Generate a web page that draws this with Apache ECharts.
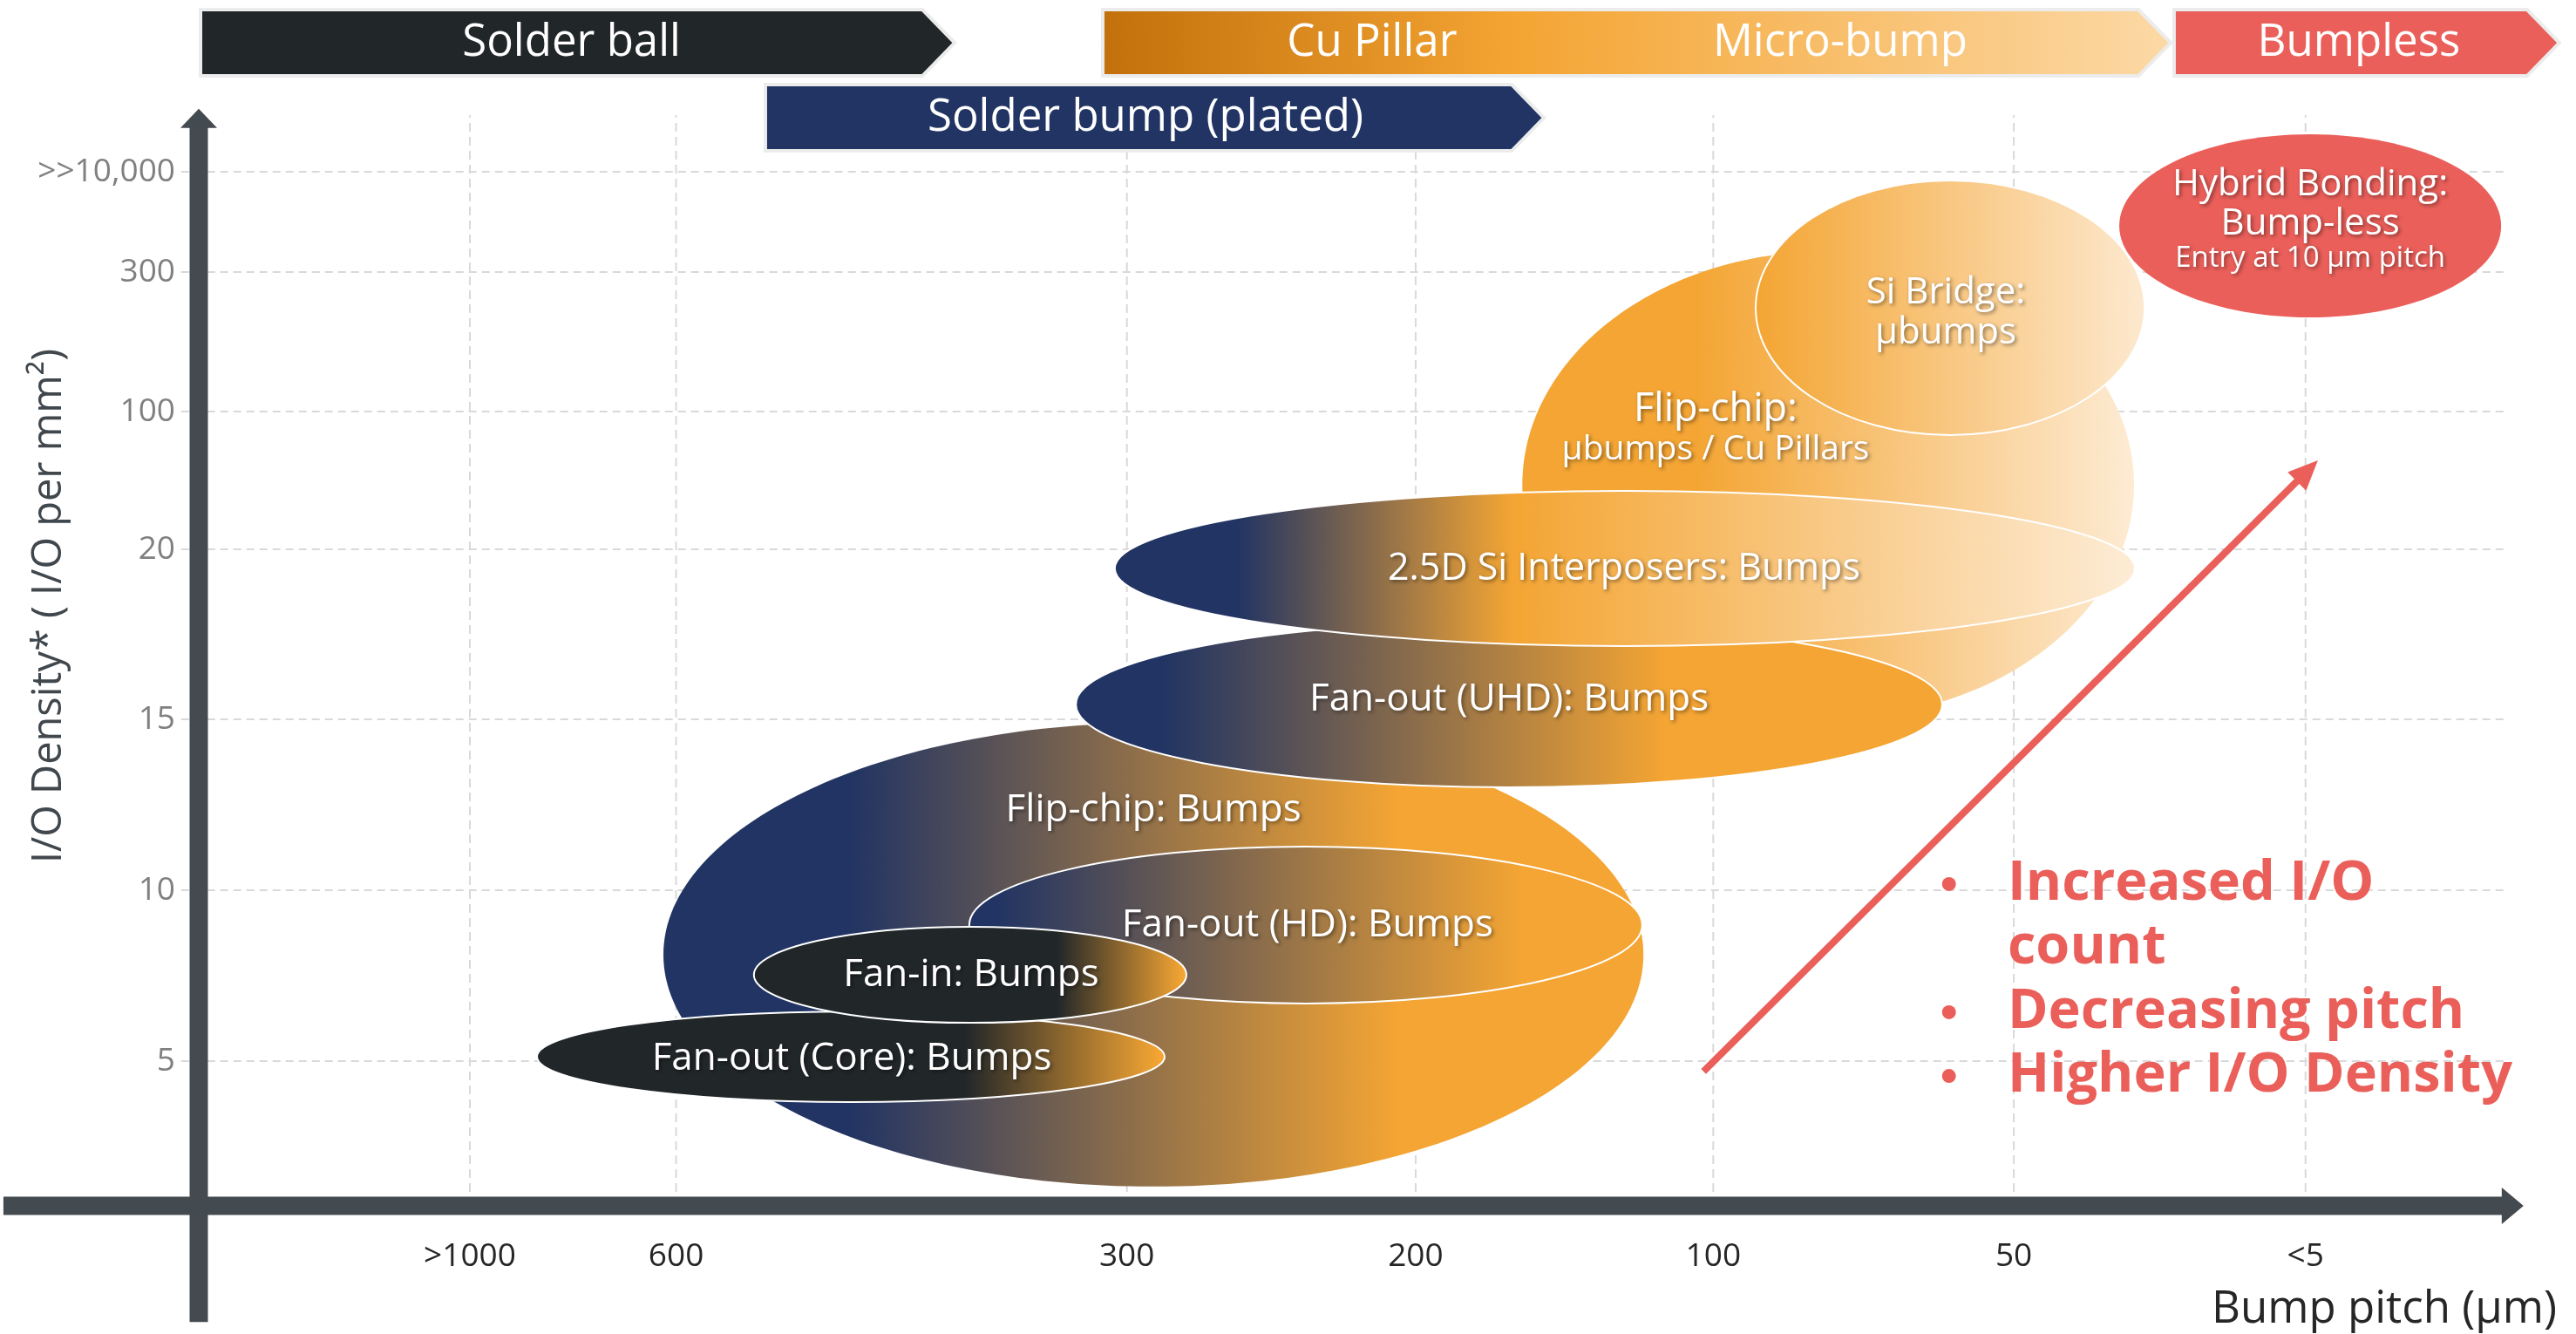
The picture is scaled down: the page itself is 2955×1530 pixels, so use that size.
<!DOCTYPE html>
<html><head><meta charset="utf-8">
<script src="https://cdn.jsdelivr.net/npm/echarts@6/dist/echarts.min.js"></script>
<style>html,body{margin:0;padding:0;background:#fff}#c{width:2955px;height:1530px}</style>
</head><body><div id="c"></div>
<script>
// ---- axis ticks (positions along the diagram's ordinal axes) ----
const xTickLabels = ['>1000', '600', '300', '200', '100', '50', '<5'];
const xTickPos = [0.92, 1.62, 3.15, 4.13, 5.14, 6.16, 7.15];
const yTickLabels = ['5', '10', '15', '20', '100', '300', '>>10,000'];
const yTickPos = [0.847, 1.847, 2.847, 3.842, 4.648, 5.464, 6.051];
const xAxisExtent = [-0.663, 7.89];
const yAxisExtent = [-0.68, 6.42];
const xTitle = 'Bump pitch (µm)';
const yTitle = 'I/O Density* ( I/O per mm²)';

// ---- technology bubbles (bottom to top) ----
const bubbleNames = ['Flip-chip: Bumps', 'Fan-out (HD): Bumps', 'Fan-out (Core): Bumps', 'Fan-in: Bumps',
  'Flip-chip: µbumps / Cu Pillars', 'Si Bridge: µbumps', 'Fan-out (UHD): Bumps', '2.5D Si Interposers: Bumps', 'Hybrid Bonding: Bump-less'];
const bubbleX = [3.24, 3.757, 2.213, 2.618, 5.530, 5.944, 4.447, 4.840, 7.166];
const bubbleY = [1.47, 1.643, 0.872, 1.352, 4.219, 5.255, 2.934, 3.730, 5.735];
const bubbleRx = [1.663, 1.142, 1.065, 0.734, 1.038, 0.660, 1.470, 1.731, 0.648];
const bubbleRy = [1.357, 0.459, 0.265, 0.281, 1.367, 0.745, 0.485, 0.454, 0.536];

// ---- bubble labels ----
const labelTexts = ['Flip-chip: Bumps', 'Fan-out (HD): Bumps', 'Fan-out (Core): Bumps', 'Fan-in: Bumps',
  'Flip-chip:', 'µbumps / Cu Pillars', 'Si Bridge:', 'µbumps', 'Fan-out (UHD): Bumps', '2.5D Si Interposers: Bumps',
  'Hybrid Bonding:', 'Bump-less', 'Entry at 10 µm pitch'];
const labelX = [3.240, 3.763, 2.216, 2.621, 5.148, 5.148, 5.929, 5.929, 4.447, 4.837, 7.166, 7.166, 7.166];
const labelY = [2.316, 1.638, 0.862, 1.352, 4.658, 4.423, 5.342, 5.107, 2.964, 3.724, 5.974, 5.745, 5.541];

// ---- interconnect banners ----
const bannerNames = ['Solder ball', 'Solder bump (plated)', 'Cu Pillar / Micro-bump', 'Bumpless'];
const bannerStart = [0.006, 1.923, 3.068, 6.704];
const bannerEnd = [2.456, 4.456, 6.583, 7.902];
const bannerRow = [0, 1, 0, 0];
const rowTop = [7.0, 6.561];
const rowBottom = [6.612, 6.173];
const bannerTexts = ['Solder ball', 'Solder bump (plated)', 'Cu Pillar', 'Micro-bump', 'Bumpless'];
const bannerTextX = [1.265, 3.213, 3.982, 5.571, 7.331];
const bannerTextRow = [0, 1, 0, 0, 0];

// ---- trend arrow and bullets ----
const trendFrom = [5.107, 0.786];
const trendTo = [7.192, 4.362];
const bulletLines = ['Increased I/O', 'count', 'Decreasing pitch', 'Higher I/O Density'];
const bulletHasDot = [true, false, true, true];
const bulletY = [1.883, 1.510, 1.133, 0.760];
const bulletTextX = 6.139;
const bulletDotX = 5.94;

// ---------------- styles ----------------
const NAVY = '#213463', ORANGE = '#f4a533', DARK = '#212629', RED = '#eb5f5a', LIGHT = '#fdebd3';
function lin(stops) { return { type: 'linear', x: 0, y: 0, x2: 1, y2: 0, colorStops: stops.map(s => ({ offset: s[0], color: s[1] })) }; }
const bubbleStyles = [
  { fill: lin([[0, NAVY], [0.19, NAVY], [0.75, ORANGE], [1, ORANGE]]), stroke: null },
  { fill: lin([[0, NAVY], [0.04, NAVY], [0.82, ORANGE], [1, ORANGE]]), stroke: '#ffffff' },
  { fill: lin([[0, DARK], [0.68, DARK], [0.99, ORANGE], [1, ORANGE]]), stroke: '#ffffff' },
  { fill: lin([[0, DARK], [0.70, DARK], [0.99, ORANGE], [1, ORANGE]]), stroke: '#ffffff' },
  { fill: lin([[0, ORANGE], [0.28, ORANGE], [1, LIGHT]]), stroke: null },
  { fill: lin([[0, ORANGE], [1, '#fde9cf']]), stroke: '#ffffff' },
  { fill: lin([[0, NAVY], [0.1, NAVY], [0.68, ORANGE], [1, ORANGE]]), stroke: '#ffffff' },
  { fill: lin([[0, NAVY], [0.12, NAVY], [0.39, ORANGE], [1, '#fdecd6']]), stroke: '#ffffff' },
  { fill: RED, stroke: null }
];
const labelSizes = [44, 44, 44, 44, 45, 39, 42, 42, 44, 43, 42, 42, 33];
const bannerFills = [DARK, NAVY, lin([[0, '#c2700b'], [0.39, ORANGE], [1, '#fcd9a6']]), RED];
const FONT = '"Open Sans", "Noto Sans", sans-serif';
const AXIS = '#434a50';
const shadowText = { textShadowColor: 'rgba(0,0,0,0.45)', textShadowBlur: 4, textShadowOffsetX: 2, textShadowOffsetY: 2 };

const chart = echarts.init(document.getElementById('c'));

const series = [];
// horizontal gridlines
series.push({
  type: 'custom', clip: false, silent: true, z: 1,
  data: yTickPos.map(v => [0, v]),
  renderItem: (p, api) => {
    const v = yTickPos[p.dataIndex];
    const a = api.coord([-0.06, v]), b = api.coord([7.83, v]);
    return { type: 'line', shape: { x1: a[0], y1: a[1], x2: b[0], y2: b[1] }, style: { stroke: '#d9d9d9', lineWidth: 2, lineDash: [9, 6] } };
  }
});
// vertical gridlines
series.push({
  type: 'custom', clip: false, silent: true, z: 1,
  data: xTickPos.map(u => [u, 0]),
  renderItem: (p, api) => {
    const u = xTickPos[p.dataIndex];
    const a = api.coord([u, 0]), b = api.coord([u, 6.383]);
    return { type: 'line', shape: { x1: a[0], y1: a[1], x2: b[0], y2: b[1] }, style: { stroke: '#d9d9d9', lineWidth: 2, lineDash: [10, 6] } };
  }
});
// bubbles
series.push({
  type: 'custom', clip: false, silent: true, z: 2,
  data: bubbleX.map((x, i) => [x, bubbleY[i], bubbleRx[i], bubbleRy[i]]),
  renderItem: (p, api) => {
    const i = p.dataIndex;
    const c = api.coord([api.value(0), api.value(1)]);
    const s = api.size([api.value(2), api.value(3)]);
    const st = bubbleStyles[i];
    const style = { fill: st.fill };
    if (st.stroke) { style.stroke = st.stroke; style.lineWidth = 2; }
    return { type: 'ellipse', shape: { cx: c[0], cy: c[1], rx: s[0], ry: s[1] }, style };
  }
});
// bubble labels
series.push({
  type: 'custom', clip: false, silent: true, z: 3,
  data: labelX.map((x, i) => [x, labelY[i]]),
  renderItem: (p, api) => {
    const i = p.dataIndex;
    const c = api.coord([labelX[i], labelY[i]]);
    return { type: 'text', x: c[0], y: c[1], style: Object.assign({ text: labelTexts[i], fill: '#ffffff', fontSize: labelSizes[i], fontFamily: FONT, align: 'center', verticalAlign: 'middle' }, shadowText) };
  }
});
// banners
series.push({
  type: 'custom', clip: false, silent: true, z: 3,
  data: bannerStart.map((s, i) => [s, rowTop[bannerRow[i]]]),
  renderItem: (p, api) => {
    const i = p.dataIndex, r = bannerRow[i];
    const tl = api.coord([bannerStart[i], rowTop[r]]);
    const br = api.coord([bannerEnd[i], rowBottom[r]]);
    const midY = (tl[1] + br[1]) / 2, tip = br[0] + 37;
    return { type: 'polygon', shape: { points: [[tl[0], tl[1]], [br[0], tl[1]], [tip, midY], [br[0], br[1]], [tl[0], br[1]]] },
      style: { fill: bannerFills[i], stroke: '#ececec', lineWidth: 4 } };
  }
});
// banner texts
series.push({
  type: 'custom', clip: false, silent: true, z: 4,
  data: bannerTextX.map((x, i) => [x, rowTop[bannerTextRow[i]]]),
  renderItem: (p, api) => {
    const i = p.dataIndex, r = bannerTextRow[i];
    const c = api.coord([bannerTextX[i], (rowTop[r] + rowBottom[r]) / 2]);
    return { type: 'text', x: c[0], y: c[1], style: { text: bannerTexts[i], fill: '#ffffff', fontSize: 51, fontFamily: FONT, align: 'center', verticalAlign: 'middle' } };
  }
});
// axes with arrow heads
series.push({
  type: 'custom', clip: false, silent: true, z: 5,
  data: [[0, 0]],
  renderItem: (p, api) => {
    const o = api.coord([0, 0]);
    const xl = api.coord([xAxisExtent[0], 0]), xr = api.coord([xAxisExtent[1], 0]);
    const yb = api.coord([0, yAxisExtent[0]]), yt = api.coord([0, yAxisExtent[1]]);
    const bw = 21;
    return { type: 'group', children: [
      { type: 'rect', shape: { x: xl[0], y: o[1] - bw / 2, width: xr[0] - 24 - xl[0], height: bw }, style: { fill: AXIS } },
      { type: 'polygon', shape: { points: [[xr[0] - 25, o[1] - 21], [xr[0], o[1]], [xr[0] - 25, o[1] + 21]] }, style: { fill: AXIS } },
      { type: 'rect', shape: { x: o[0] - bw / 2, y: yt[1] + 21, width: bw, height: yb[1] - yt[1] - 21 }, style: { fill: AXIS } },
      { type: 'polygon', shape: { points: [[o[0] - 21, yt[1] + 22], [o[0], yt[1]], [o[0] + 21, yt[1] + 22]] }, style: { fill: AXIS } }
    ] };
  }
});
// tick labels
series.push({
  type: 'custom', clip: false, silent: true, z: 5,
  data: xTickPos.map(u => [u, 0]),
  renderItem: (p, api) => {
    const c = api.coord([xTickPos[p.dataIndex], -0.30]);
    return { type: 'text', x: c[0], y: c[1], style: { text: xTickLabels[p.dataIndex], fill: '#262626', fontSize: 37, fontFamily: FONT, align: 'center', verticalAlign: 'middle' } };
  }
});
series.push({
  type: 'custom', clip: false, silent: true, z: 5,
  data: yTickPos.map(v => [0, v]),
  renderItem: (p, api) => {
    const c = api.coord([-0.08, yTickPos[p.dataIndex]]);
    return { type: 'text', x: c[0], y: c[1], style: { text: yTickLabels[p.dataIndex], fill: '#808080', fontSize: 37, fontFamily: FONT, align: 'right', verticalAlign: 'middle' } };
  }
});
// axis titles
series.push({
  type: 'custom', clip: false, silent: true, z: 5,
  data: [[0, 0]],
  renderItem: (p, api) => {
    const xt = api.coord([8.003, -0.607]);
    const ytc = api.coord([-0.506, 3.51]);
    return { type: 'group', children: [
      { type: 'text', x: xt[0], y: xt[1], style: { text: xTitle, fill: '#262626', fontSize: 51, fontFamily: FONT, align: 'right', verticalAlign: 'middle' } },
      { type: 'text', x: ytc[0], y: ytc[1], rotation: Math.PI / 2, style: { text: yTitle, fill: '#40474d', fontSize: 47, fontFamily: FONT, align: 'center', verticalAlign: 'middle' } }
    ] };
  }
});
// trend arrow
series.push({
  type: 'custom', clip: false, silent: true, z: 6,
  data: [[trendFrom[0], trendFrom[1]]],
  renderItem: (p, api) => {
    const a = api.coord(trendFrom), b = api.coord(trendTo);
    const dx = b[0] - a[0], dy = b[1] - a[1], L = Math.hypot(dx, dy), ux = dx / L, uy = dy / L;
    const hl = 34, hw = 15;
    const bx = b[0] - ux * hl, by = b[1] - uy * hl;
    return { type: 'group', children: [
      { type: 'line', shape: { x1: a[0], y1: a[1], x2: bx + ux * 2, y2: by + uy * 2 }, style: { stroke: RED, lineWidth: 8 } },
      { type: 'polygon', shape: { points: [[b[0], b[1]], [bx - uy * hw, by + ux * hw], [bx + uy * hw, by - ux * hw]] }, style: { fill: RED } }
    ] };
  }
});
// bullets
series.push({
  type: 'custom', clip: false, silent: true, z: 6,
  data: bulletY.map(v => [bulletTextX, v]),
  renderItem: (p, api) => {
    const i = p.dataIndex;
    const t = api.coord([bulletTextX, bulletY[i]]);
    const d = api.coord([bulletDotX, bulletY[i]]);
    const children = [{ type: 'text', x: t[0], y: t[1], style: { text: bulletLines[i], fill: RED, fontSize: 63, fontWeight: 'bold', fontFamily: FONT, align: 'left', verticalAlign: 'middle' } }];
    if (bulletHasDot[i]) children.push({ type: 'circle', shape: { cx: d[0], cy: d[1], r: 8 }, style: { fill: RED } });
    return { type: 'group', children };
  }
});

chart.setOption({
  animation: false,
  backgroundColor: '#ffffff',
  grid: { left: 228, top: 11, width: 2704, height: 1372 },
  xAxis: { type: 'value', min: 0, max: 8, show: false },
  yAxis: { type: 'value', min: 0, max: 7, show: false },
  series
});
</script>
</body></html>
